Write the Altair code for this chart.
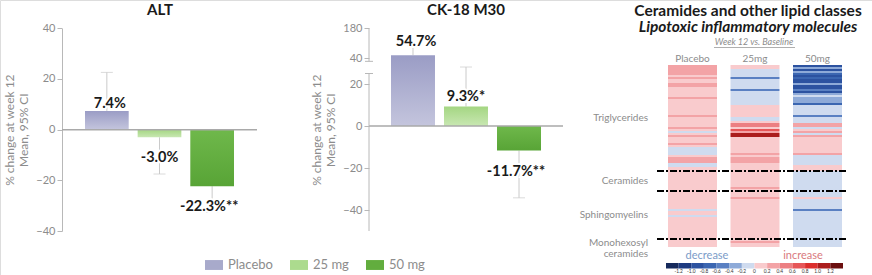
import altair as alt
import pandas as pd

FONT = "Lato"
GRAY = "#8c8c8c"
AXIS_GRAY = "#b8b8b8"

# ---------------- bar panels ----------------
groups = ["Placebo", "25 mg", "50 mg"]
group_colors = ["#a8aacb", "#acdb8e", "#62ad3e"]
bar_gradients = [("#9a9cc5", "#c4c5dd"), ("#a4d682", "#c8e7b2"), ("#6fb84b", "#58a436")]

alt_mean = [7.4, -3.0, -22.3]
alt_ci_end = [22.6, -17.5, -32.6]
alt_text = ["7.4%", "-3.0%", "-22.3%**"]

ck_mean = [54.7, 9.3, -11.7]
ck_ci_end = [99.0, 31.4, -34.2]
ck_text = ["54.7%", "9.3%*", "-11.7%**"]

alt_ticks = [-40, -20, 0, 20, 40]
ck_ticks = [-40, -20, 0, 20, 40, 180]
ck_break = [25, 37]          # CK-18 axis is broken between these values

panel_titles = ["ALT", "CK-18 M30"]
y_title = ["% change at week 12", "Mean, 95% CI"]

# ---------------- heatmap ----------------
heat_cols = ["Placebo", "25mg", "50mg"]
lipid_classes = ["Triglycerides", "Ceramides", "Sphingomyelins", "Monohexosyl\nceramides"]
class_rows = [53, 10, 24, 4]

placebo_fc = [
    # triglycerides
    0.3, 0.3, 0.3, 0.3, 0.3, 0.1, 0.3, 0.1, 0.1, 0.3, 0.3, 0.1, 0.1, 0.1, 0.1, 0.1,
    0.25, 0.1, 0.1, 0.1, 0.1, 0.1, 0.1, 0.1, 0.1, 0.25, 0.1, 0.1, 0.1, 0.1, 0.1,
    0.3, 0.1, -0.1, 0.1, 0.35, 0.1, 0.1, 0.1, 0.25, 0.1, -0.1, -0.1, -0.1, -0.1,
    0.1, 0.35, 0.35, 0.35, -0.1, -0.1, 0.1, 0.1,
    # ceramides
    0.1, 0.1, 0.1, 0.1, 0.1, 0.1, 0.1, 0.1, 0.1, 0.1,
    # sphingomyelins
    0.1, 0.1, 0.1, 0.1, 0.1, 0.1, 0.1, 0.1, 0.1, -0.1, 0.1, 0.1, -0.1,
    0.1, 0.1, 0.1, 0.1, 0.1, 0.1, 0.1, 0.1, 0.1, 0.1, 0.1,
    # monohexosyl ceramides
    0.1, 0.1, 0.1, 0.1,
]
mg25_fc = [
    0.1, 0.1, -0.1, -0.1, -0.1, -0.1, -0.45, -0.1, -0.1, -0.1, -0.1, -0.1, -0.45,
    -0.1, -0.1, -0.1, -0.1, -0.1, -0.1, -0.1, 0.1, 0.1, 0.1, 0.1, 0.1, 0.1, -0.1,
    -0.1, 0.1, 0.45, 0.45, 0.1, 0.6, 0.3, 1.1, 1.1, 0.1, 0.1, 0.1, 0.1, 0.1, 0.1,
    0.1, 0.1, 0.3, 0.1, 0.35, 0.35, 0.35, 0.1, 0.1, 0.1, 0.1,
    0.1, 0.1, 0.1, 0.1, 0.1, 0.1, 0.1, 0.1, 0.3, 0.1,
    0.1, 0.1, 0.1, 0.3, 0.1, 0.1, 0.1, 0.1, 0.1, 0.1, 0.1, 0.1, 0.1, 0.1, 0.1,
    0.1, 0.1, 0.1, 0.1, 0.1, 0.1, 0.1, 0.1, 0.1,
    0.1, 0.3, 0.1, 0.1,
]
mg50_fc = [
    -0.9, -0.3, -0.9, -0.3, -0.7, -0.9, -0.7, -0.9, -0.9, -0.3, -0.9, -0.9, -0.5,
    -0.9, -0.3, -0.15, -0.35, -0.35, -0.3, -0.7, -0.1, -0.1, -0.1, -0.1, -0.1,
    -0.45, -0.1, -0.1, -0.1, 0.3, 0.3, -0.1, 0.1, 0.3, -0.15, 0.3, 0.1, 0.1, 0.1,
    0.1, 0.1, 0.1, 0.1, 0.1, 0.3, -0.1, -0.1, -0.1, -0.1, -0.1, 0.1, 0.1, 0.1,
    -0.1, -0.1, -0.1, -0.1, -0.1, -0.1, -0.1, -0.1, -0.1, -0.1,
    -0.1, -0.1, -0.1, 0.05, -0.1, -0.1, -0.1, -0.1, -0.1, -0.45, -0.1, -0.1,
    -0.1, -0.1, -0.1, -0.1, -0.1, -0.1, -0.1, -0.1, -0.1, -0.1, -0.1, -0.1,
    -0.1, -0.1, -0.1, -0.1,
]

legend_thresholds = [-1.2, -1.0, -0.8, -0.6, -0.4, -0.2, 0, 0.2, 0.4, 0.6, 0.8, 1.0, 1.2]
legend_labels = ["-1.2", "-1.0", "-0.8", "-0.6", "-0.4", "-0.2", "0",
                 "0.2", "0.4", "0.6", "0.8", "1.0", "1.2"]
legend_colors = ["#162a5c", "#1d3a80", "#2c52a0", "#3b66b1", "#5a80c2", "#8eaad8", "#cfdbef",
                 "#f9cbcd", "#f3a3a6", "#ec7f82", "#e65658", "#dc2e2c", "#ab1d1d", "#6b0f0f"]
legend_extent = [-1.4, 1.4]

heat_titles = ["Ceramides and other lipid classes", "Lipotoxic inflammatory molecules"]
heat_subtitle = "Week 12 vs. Baseline"
legend_words = ["decrease", "increase"]

# ---------------- build ----------------
color = alt.Color(
    "group:N",
    scale=alt.Scale(domain=groups, range=group_colors),
    legend=alt.Legend(
        orient="none", legendX=205, legendY=256, direction="horizontal", title=None,
        symbolType="M-1,-0.55H1V0.55H-1Z", symbolSize=324, symbolStrokeWidth=0,
        symbolOpacity=1, labelFontSize=13, labelColor=GRAY, labelFont=FONT,
        columnPadding=17, labelOffset=5,
    ),
)


def y_axis(offset, ticks, domain=True):
    return alt.Axis(
        orient="left", offset=offset, values=ticks, tickSize=5, tickColor=AXIS_GRAY,
        domain=domain, domainColor=AXIS_GRAY, labelColor=GRAY, labelFontSize=11,
        labelFont=FONT, labelPadding=2, grid=False, title=y_title, titleFont=FONT,
        titleFontSize=12, titleFontWeight="normal", titleColor=GRAY, titlePadding=5,
        titleLineHeight=14, labelOverlap=False, labelFlush=False,
    )


def bar_panel(mean, ci, text, xs, ys, axis, zero_x, label_dys):
    df = pd.DataFrame({"group": groups, "mean": mean, "ci": ci, "label": text})
    base = alt.Chart(df)
    X = alt.X("group:N", scale=xs, sort=groups, axis=None)
    layers = []
    layers.append(base.mark_rule(color="#cacaca", strokeWidth=1).encode(
        x=X, y=alt.Y("mean:Q", scale=ys, axis=None), y2="ci:Q"))
    layers.append(base.mark_tick(color="#cacaca", thickness=1, size=12).encode(
        x=X, y=alt.Y("ci:Q", scale=ys, axis=None)))
    # invisible carrier of the axis and the colour legend
    layers.append(base.mark_bar(opacity=0).encode(
        x=X, y=alt.Y("mean:Q", scale=ys, axis=axis), y2=alt.datum(0), color=color))
    for g, (c_top, c_bot) in zip(groups, bar_gradients):
        grad = {"gradient": "linear", "x1": 0, "x2": 0, "y1": 0, "y2": 1,
                "stops": [{"offset": 0, "color": c_top}, {"offset": 1, "color": c_bot}]}
        layers.append(base.transform_filter(alt.datum.group == g).mark_bar(color=grad).encode(
            x=X, y=alt.Y("mean:Q", scale=ys, axis=None), y2=alt.datum(0)))
    zero = pd.DataFrame({"z": [0]})
    layers.append(alt.Chart(zero).mark_rule(color="#a9a9a9", strokeWidth=1.5).encode(
        x=alt.value(zero_x[0]), x2=alt.value(zero_x[1]),
        y=alt.Y("z:Q", scale=ys, axis=None)))
    for g, dy in zip(groups, label_dys):
        sub = base.transform_filter(alt.datum.group == g)
        enc = dict(x=X, y=alt.Y("mean:Q", scale=ys, axis=None), text="label:N")
        layers.append(sub.mark_text(font=FONT, fontSize=14.5, fontWeight="bold", dy=dy,
                                    color="white", stroke="white", strokeWidth=4).encode(**enc))
        layers.append(sub.mark_text(font=FONT, fontSize=14.5, fontWeight="bold", dy=dy,
                                    color="#1a1a1a").encode(**enc))
    return layers


alt_x = alt.Scale(domain=groups, range=[85, 234], paddingInner=0.17, paddingOuter=0)
alt_y = alt.Scale(domain=[-40, 40], range=[231, 28.3], nice=False, zero=False)
ck_x = alt.Scale(domain=groups, range=[391, 541], paddingInner=0.17, paddingOuter=0)
ck_y = alt.Scale(domain=[-50, ck_break[0], 40, 180], range=[231, 73.5, 58.3, 28.3],
                 nice=False, zero=False)

layers = []
layers += bar_panel(alt_mean, alt_ci_end, alt_text, alt_x, alt_y,
                    y_axis(-62, alt_ticks), (62, 257), [-7, 21, 21])
layers += bar_panel(ck_mean, ck_ci_end, ck_text, ck_x, ck_y,
                    y_axis(-369, ck_ticks, domain=False), (369, 563), [-13, -9, 21])

# broken CK-18 axis line
seg = pd.DataFrame({"a": [180, ck_break[0]], "b": [ck_break[1], -50]})
layers.append(alt.Chart(seg).mark_rule(color=AXIS_GRAY, strokeWidth=1).encode(
    x=alt.value(369), y=alt.Y("a:Q", scale=ck_y, axis=None), y2="b:Q"))
brk = pd.DataFrame({"v": ck_break})
layers.append(alt.Chart(brk).mark_rule(color=AXIS_GRAY, strokeWidth=1).encode(
    x=alt.value(365), x2=alt.value(373), y=alt.Y("v:Q", scale=ck_y, axis=None)))

# heatmap
rows = []
for col, vals in zip(heat_cols, [placebo_fc, mg25_fc, mg50_fc]):
    for i, v in enumerate(vals):
        rows.append({"col": col, "r": i, "fc": v})
heat_df = pd.DataFrame(rows)
n_rows = sum(class_rows)
heat_x = alt.Scale(domain=heat_cols, range=[668, 842], paddingInner=0.216, paddingOuter=0)
heat_y = alt.Scale(domain=[0, n_rows], range=[65, 247], nice=False, zero=False)

fill = alt.Fill(
    "fc:Q",
    scale=alt.Scale(type="threshold", domain=legend_thresholds, range=legend_colors),
    legend=None,
)
layers.append(alt.Chart(heat_df).mark_rect().transform_calculate(r2="datum.r + 1").encode(
    x=alt.X("col:N", scale=heat_x, sort=heat_cols,
            axis=alt.Axis(orient="top", offset=-65, domain=False, ticks=False, labelPadding=2,
                          labelFontSize=10, labelColor=GRAY, labelFont=FONT, title=None,
                          labelAngle=0)),
    y=alt.Y("r:Q", scale=heat_y, axis=None),
    y2="r2:Q",
    fill=fill,
))

# colour bar (drawn from the threshold lists)
bar_scale = alt.Scale(domain=legend_extent, range=[666, 843], nice=False, zero=False)
cbar = pd.DataFrame({
    "lo": [legend_extent[0]] + legend_thresholds,
    "hi": legend_thresholds + [legend_extent[1]],
    "c": legend_colors,
})
layers.append(alt.Chart(cbar).mark_rect().encode(
    x=alt.X("lo:Q", scale=bar_scale, axis=None), x2="hi:Q",
    y=alt.value(263), y2=alt.value(268.5),
    fill=alt.Fill("c:N", scale=None, legend=None)))
clab = pd.DataFrame({"v": legend_thresholds, "t": legend_labels})
layers.append(alt.Chart(clab).mark_text(
    font=FONT, fontSize=4.8, color="#333333", baseline="middle").encode(
    x=alt.X("v:Q", scale=bar_scale, axis=None), y=alt.value(271.8), text="t:N"))

starts, acc = [], 0
for n in class_rows:
    starts.append(acc)
    acc += n
cls_df = pd.DataFrame({"cls": lipid_classes, "start": starts, "n": class_rows})
cls_df["mid"] = cls_df["start"] + cls_df["n"] / 2.0
layers.append(alt.Chart(cls_df[cls_df["start"] > 0]).mark_rule(
    color="black", strokeWidth=1.8, strokeDash=[7, 2, 2, 2]).encode(
    x=alt.value(657), x2=alt.value(847), y=alt.Y("start:Q", scale=heat_y, axis=None)))
layers.append(alt.Chart(cls_df.iloc[:-1]).mark_text(
    font=FONT, fontSize=10, color=GRAY, align="right", baseline="middle").encode(
    x=alt.value(648), y=alt.Y("mid:Q", scale=heat_y, axis=None), text="cls:N"))
layers.append(alt.Chart(cls_df.iloc[-1:]).mark_text(
    font=FONT, fontSize=10, color=GRAY, align="right", baseline="top", dy=-5,
    lineBreak="\n", lineHeight=11).encode(
    x=alt.value(648), y=alt.Y("mid:Q", scale=heat_y, axis=None), text="cls:N"))


def note(text, x, y, **kw):
    style = dict(font=FONT, align="center", baseline="middle")
    style.update(kw)
    return alt.Chart(pd.DataFrame({"t": [text]})).mark_text(**style).encode(
        x=alt.value(x), y=alt.value(y), text="t:N")


layers.append(note(panel_titles[0], 160, 9.5, fontSize=15, fontWeight="bold", color="#1a1a1a"))
layers.append(note(panel_titles[1], 466, 9.5, fontSize=15, fontWeight="bold", color="#1a1a1a"))
layers.append(note(heat_titles[0], 748, 10.5, fontSize=15.5, fontWeight="bold", color="#1a1a1a"))
layers.append(note(heat_titles[1], 748, 27, fontSize=15.5, fontWeight="bold",
                   fontStyle="italic", color="#1a1a1a"))
layers.append(note(heat_subtitle, 754, 42, fontSize=9, fontStyle="italic", color=GRAY))
layers.append(alt.Chart(pd.DataFrame({"t": [heat_subtitle]})).mark_rule(
    color=GRAY, strokeWidth=0.7).encode(x=alt.value(714), x2=alt.value(795), y=alt.value(47.5)))
layers.append(note(legend_words[0], 707, 256, fontSize=11, color="#7b9bc8"))
layers.append(note(legend_words[1], 803, 256, fontSize=11, color="#d97a7e"))

chart = alt.layer(*layers).resolve_scale(
    x="independent", y="independent", fill="independent"
).properties(
    width=872, height=275, padding=0, autosize=alt.AutoSizeParams(type="none")
).configure_view(stroke=None).configure(font=FONT, background="white")

chart.save("out.html", embed_options={"renderer": "svg", "actions": False})
